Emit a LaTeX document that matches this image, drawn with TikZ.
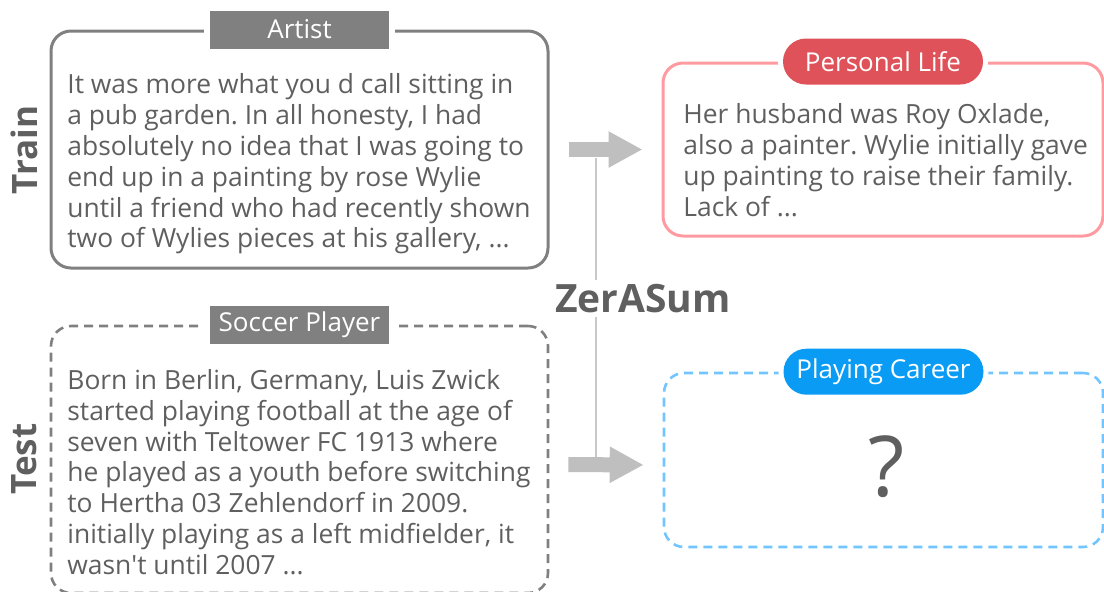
\documentclass[tikz,border=0pt]{standalone}
\usepackage{fontspec}
\setmainfont{Open Sans}
\usetikzlibrary{shapes.misc,arrows.meta}
\frenchspacing

\definecolor{boxgray}{HTML}{808080}
\definecolor{txtgray}{HTML}{5F5F5F}
\definecolor{arrgray}{HTML}{BFBFBF}
\definecolor{linegray}{HTML}{C8C8C8}
\definecolor{lifered}{HTML}{DF5259}
\definecolor{lifepink}{HTML}{FF9BA0}
\definecolor{careerblue}{HTML}{0A9CF5}
\definecolor{careerlight}{HTML}{72C5FF}

\begin{document}
\begin{tikzpicture}[x=1pt, y=-1pt,
    every node/.style={text=txtgray},
    card/.style={rectangle, rounded corners=10pt, line width=1.5pt},
    body/.style={anchor=west, align=left, inner sep=0pt, font=\fontsize{13.2}{15.4}\selectfont},
    topic/.style={rectangle, fill=boxgray, text=white, minimum width=89.5pt, minimum height=19pt, inner sep=0pt, font=\fontsize{13}{14}\selectfont, preaction={draw=white, line width=6pt}},
    aspect/.style={rounded rectangle, text=white, minimum width=100pt, minimum height=23pt, inner sep=0pt, font=\fontsize{13}{14}\selectfont, preaction={draw=white, line width=5pt}},
    split/.style={rotate=90, font=\fontsize{17.5}{17.5}\selectfont\bfseries},
    flow/.style={draw=arrgray, line width=7.5pt, -{Triangle[length=17pt, width=17pt]}, shorten <=9.5pt, shorten >=9.5pt}]
    \useasboundingbox (0,0) rectangle (552,295.5);
    % Row labels
    \node[split] (train) at (12.3,75) {Train};
    \node[split] (test) at (12.3,229.5) {Test};
    % Training pair: source article and summary
    \node[card, draw=boxgray, minimum width=248.5pt, minimum height=118.5pt] (artist) at (149.75,74.75) {};
    \node[topic] (artist_t) at (artist.north) {Artist};
    \node[body] (artist_b) at (33.5,82) {It was more what you d call sitting in\\
        a pub garden. In all honesty, I had\\
        absolutely no idea that I was going to\\
        end up in a painting by rose Wylie\\
        until a friend who had recently shown\\
        two of Wylies pieces at his gallery, ...};
    \node[card, draw=lifepink, minimum width=220pt, minimum height=86.5pt] (life) at (441.5,74.75) {};
    \node[aspect, fill=lifered] (life_t) at (life.north) {Personal Life};
    \node[body] (life_b) at (341.5,80) {Her husband was Roy Oxlade,\\
        also a painter. Wylie initially gave\\
        up painting to raise their family.\\
        Lack of ...};
    % Test pair: unseen domain and aspect
    \node[card, draw=boxgray, dash pattern=on 4.5pt off 3pt, line width=1.3pt, minimum width=248.5pt, minimum height=133.5pt] (soccer) at (149.75,229.75) {};
    \node[topic] (soccer_t) at (soccer.north) {Soccer Player};
    \node[body] (soccer_b) at (33.5,236) {Born in Berlin, Germany, Luis Zwick\\
        started playing football at the age of\\
        seven with Teltower FC 1913 where\\
        he played as a youth before switching\\
        to Hertha 03 Zehlendorf in 2009.\\
        initially playing as a left midfielder, it\\
        wasn\textquotesingle t until 2007 ...};
    \node[card, draw=careerlight, dash pattern=on 4.5pt off 3pt, line width=1.3pt, minimum width=219.5pt, minimum height=87pt] (career) at (441.75,230) {};
    \node[aspect, fill=careerblue] (career_t) at (career.north) {Playing Career};
    \node[font=\fontsize{42}{42}\selectfont] (qmark) at (443.5,233.5) {?};
    % Model in the middle
    \coordinate (jtop) at (298,79);
    \coordinate (jbot) at (298,229);
    \draw[linegray, line width=1pt] (jtop) -- (jbot);
    \draw[flow] (artist.east) -- (life.west);
    \draw[flow] ([yshift=-2.5pt]soccer.east) -- ([yshift=-2.5pt]career.west);
    \node[fill=white, inner sep=2pt, font=\fontsize{19.5}{19.5}\selectfont\bfseries] (zer) at (321.5,149.3) {ZerASum};
\end{tikzpicture}
\end{document}
